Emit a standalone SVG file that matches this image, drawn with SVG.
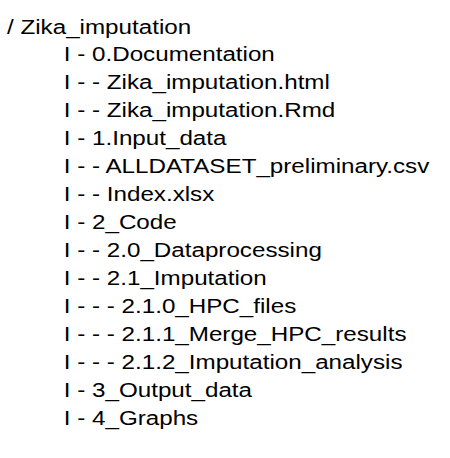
<svg xmlns="http://www.w3.org/2000/svg" width="450" height="458" viewBox="0 0 450 458">
  <style>
    text { font-family: "Liberation Sans", Arial, sans-serif; font-size: 21px; fill: #000; }
  </style>
  <rect width="450" height="458" fill="#fff"/>
  <!-- Folder tree listing, set in a slightly widened face -->
  <g id="tree" transform="scale(1.152,1)">
    <text x="6.1" y="34.5">/ Zika_imputation</text>
    <text x="55.4" y="61">I - 0.Documentation</text>
    <text x="55.4" y="89">I - - Zika_imputation.html</text>
    <text x="55.4" y="117">I - - Zika_imputation.Rmd</text>
    <text x="55.4" y="145">I - 1.Input_data</text>
    <text x="55.4" y="173">I - - ALLDATASET_preliminary.csv</text>
    <text x="55.4" y="201">I - - Index.xlsx</text>
    <text x="55.4" y="229">I - 2_Code</text>
    <text x="55.4" y="257">I - - 2.0_Dataprocessing</text>
    <text x="55.4" y="285">I - - 2.1_Imputation</text>
    <text x="55.4" y="313">I - - - 2.1.0_HPC_files</text>
    <text x="55.4" y="341">I - - - 2.1.1_Merge_HPC_results</text>
    <text x="55.4" y="369">I - - - 2.1.2_Imputation_analysis</text>
    <text x="55.4" y="397">I - 3_Output_data</text>
    <text x="55.4" y="425">I - 4_Graphs</text>
  </g>
</svg>
